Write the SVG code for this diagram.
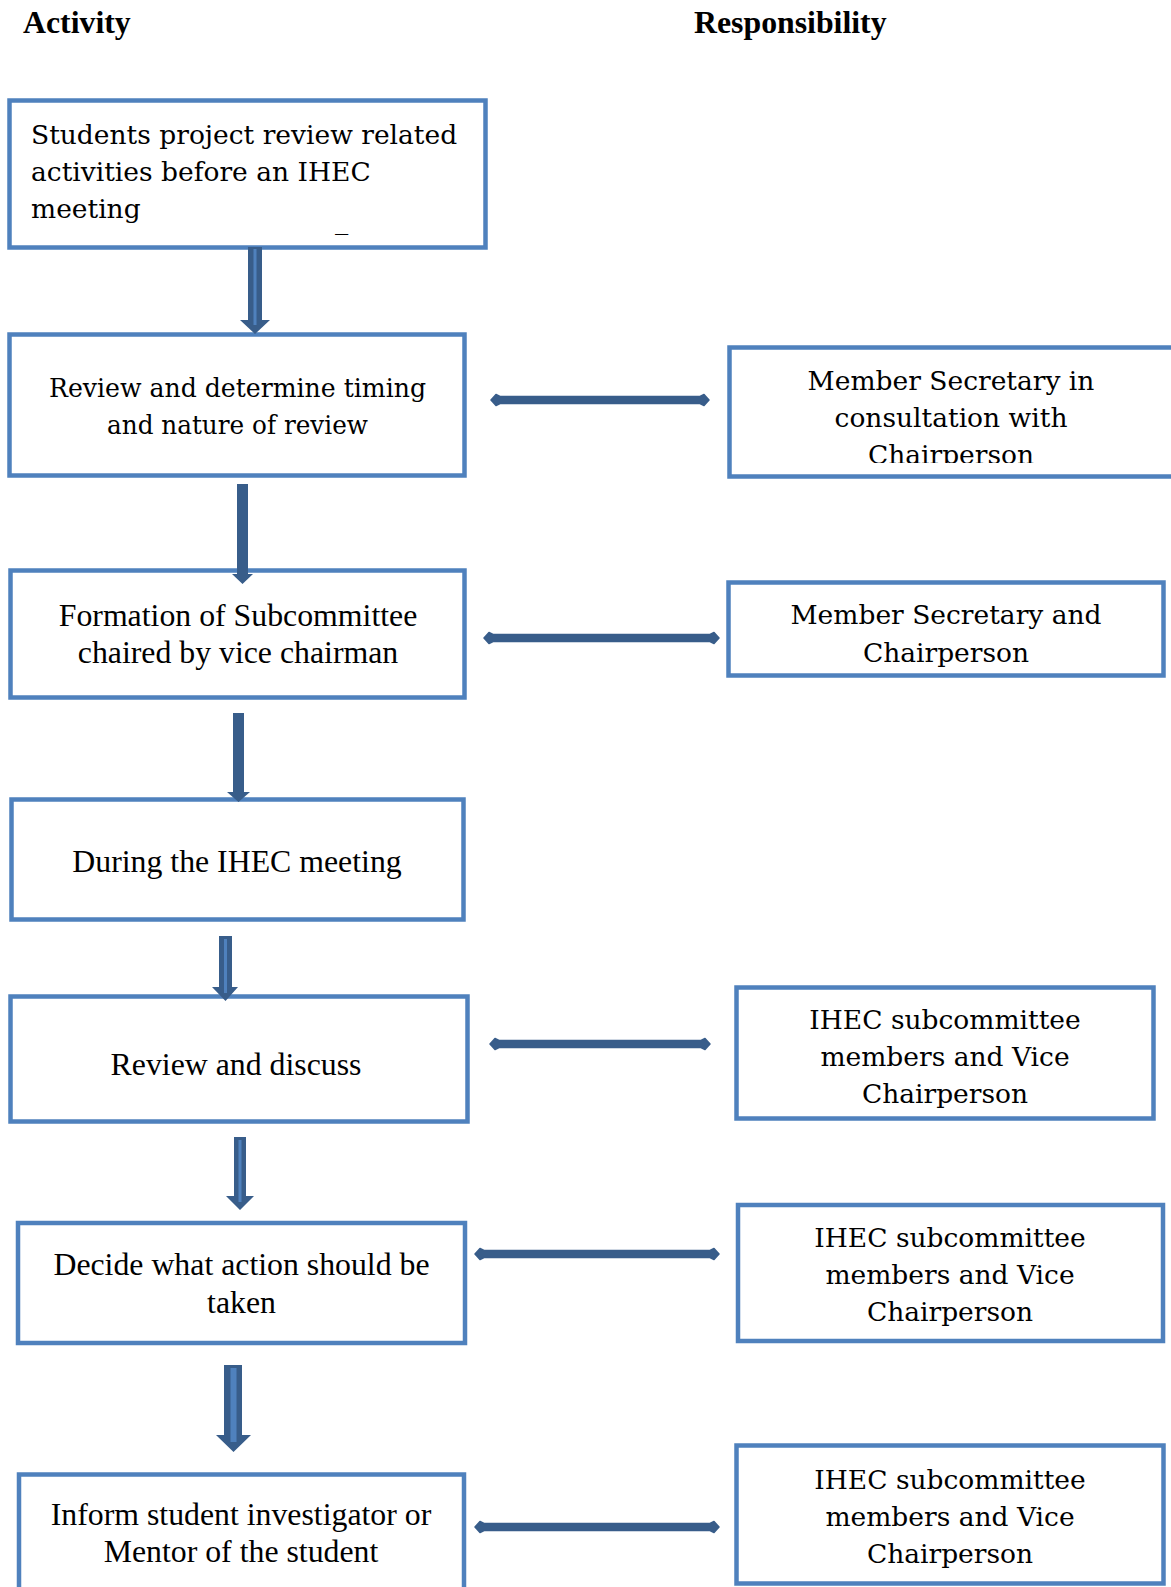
<svg xmlns="http://www.w3.org/2000/svg" width="1171" height="1587" viewBox="0 0 1171 1587">
  <style>
    .box { fill: #ffffff; stroke: #4F81BD; stroke-width: 4.5; }
    .hdr { font-family: "Liberation Serif", "Times New Roman", serif; font-weight: bold; font-size: 31.8px; fill: #000; }
    .cam { font-family: "DejaVu Serif", "Liberation Serif", serif; font-size: 26.5px; fill: #000; }
    .tnr { font-family: "Liberation Serif", "Times New Roman", serif; font-size: 31.8px; fill: #000; }
    .mid { text-anchor: middle; }
    .darr { fill: #385D8A; }
    .stripe { fill: #4F81BD; }
    .harr { fill: #385D8A; stroke: #385D8A; stroke-width: 1.5; stroke-linejoin: round; }
  </style>
  <defs>
    <clipPath id="clipR1">
      <rect x="732" y="350" width="439" height="113"/>
    </clipPath>
  </defs>

  <rect width="1171" height="1587" fill="#ffffff"/>

  <!-- column headings -->
  <text class="hdr" x="23" y="33">Activity</text>
  <text class="hdr" x="694" y="33">Responsibility</text>

  <!-- activity column -->
  <g id="act-1">
    <rect class="box" x="9.5" y="100.5" width="476" height="147"/>
    <text class="cam" x="31" y="144">Students project review related</text>
    <text class="cam" x="31" y="181">activities before an IHEC</text>
    <text class="cam" x="31" y="218">meeting</text>
    <text class="cam" x="335" y="229">_</text>
  </g>
  <g id="act-2">
    <rect class="box" x="9.5" y="334.5" width="455" height="141"/>
    <text class="cam mid" x="237.5" y="397" textLength="377" lengthAdjust="spacingAndGlyphs">Review and determine timing</text>
    <text class="cam mid" x="237.5" y="434" textLength="261" lengthAdjust="spacingAndGlyphs">and nature of review</text>
  </g>
  <g id="act-3">
    <rect class="box" x="10.5" y="570.5" width="454" height="127"/>
    <text class="tnr mid" x="238" y="626">Formation of Subcommittee</text>
    <text class="tnr mid" x="238" y="663">chaired by vice chairman</text>
  </g>
  <g id="act-4">
    <rect class="box" x="11.5" y="799.5" width="452" height="120"/>
    <text class="tnr mid" x="237" y="872">During the IHEC meeting</text>
  </g>
  <g id="act-5">
    <rect class="box" x="10.5" y="996.5" width="457" height="125"/>
    <text class="tnr mid" x="236" y="1075">Review and discuss</text>
  </g>
  <g id="act-6">
    <rect class="box" x="18" y="1223" width="447" height="120"/>
    <text class="tnr mid" x="241.5" y="1275">Decide what action should be</text>
    <text class="tnr mid" x="241.5" y="1313">taken</text>
  </g>
  <g id="act-7">
    <rect class="box" x="19" y="1474.5" width="445" height="200"/>
    <text class="tnr mid" x="241" y="1525">Inform student investigator or</text>
    <text class="tnr mid" x="241" y="1562">Mentor of the student</text>
  </g>

  <!-- responsibility column -->
  <g id="resp-1">
    <rect class="box" x="729.5" y="347.5" width="444" height="129"/>
    <g clip-path="url(#clipR1)">
      <text class="cam mid" x="951" y="390">Member Secretary in</text>
      <text class="cam mid" x="951" y="427">consultation with</text>
      <text class="cam mid" x="951" y="464">Chairperson</text>
    </g>
  </g>
  <g id="resp-2">
    <rect class="box" x="728.5" y="582.5" width="435" height="93"/>
    <text class="cam mid" x="946" y="624">Member Secretary and</text>
    <text class="cam mid" x="946" y="661.5">Chairperson</text>
  </g>
  <g id="resp-3">
    <rect class="box" x="736.5" y="987.5" width="417" height="131"/>
    <text class="cam mid" x="945" y="1029">IHEC subcommittee</text>
    <text class="cam mid" x="945" y="1066">members and Vice</text>
    <text class="cam mid" x="945" y="1103">Chairperson</text>
  </g>
  <g id="resp-4">
    <rect class="box" x="738" y="1205" width="425" height="136"/>
    <text class="cam mid" x="950" y="1247">IHEC subcommittee</text>
    <text class="cam mid" x="950" y="1284">members and Vice</text>
    <text class="cam mid" x="950" y="1321">Chairperson</text>
  </g>
  <g id="resp-5">
    <rect class="box" x="736.5" y="1445.5" width="427" height="138"/>
    <text class="cam mid" x="950" y="1489">IHEC subcommittee</text>
    <text class="cam mid" x="950" y="1526">members and Vice</text>
    <text class="cam mid" x="950" y="1563">Chairperson</text>
  </g>

  <!-- connectors -->
  <g id="connectors">
    <!-- downward block arrows between activities -->
    <polygon class="darr" points="248,247 262,247 262,320 270,320 255,334 240,320 248,320"/>
    <rect class="stripe" x="253.5" y="249" width="3" height="76"/>

    <polygon class="darr" points="237,484 248,484 248,574 253,574 242.5,584 232,574 237,574"/>

    <polygon class="darr" points="233,713 244,713 244,792 250,792 238.5,802 227,792 233,792"/>

    <polygon class="darr" points="219,936 232,936 232,987 238,987 225.5,1001 212,987 219,987"/>
    <rect class="stripe" x="224" y="939" width="3" height="54"/>

    <polygon class="darr" points="234,1137 246,1137 246,1196 254,1196 240,1210 226,1196 234,1196"/>
    <rect class="stripe" x="238.5" y="1140" width="3" height="62"/>

    <polygon class="darr" points="224,1365 242,1365 242,1435 251,1435 233.5,1452 216,1435 224,1435"/>
    <rect class="stripe" x="230.5" y="1368" width="6" height="74"/>

    <!-- double-headed arrows linking activities to responsibilities -->
    <polygon class="harr" points="491,400 496,394.5 500,396.5 700,396.5 704,394.5 709,400 704,405.5 700,403.5 500,403.5 496,405.5"/>
    <polygon class="harr" points="484,638 489,632.5 493,634.5 710,634.5 714,632.5 719,638 714,643.5 710,641.5 493,641.5 489,643.5"/>
    <polygon class="harr" points="490,1044 495,1038.5 499,1040.5 701,1040.5 705,1038.5 710,1044 705,1049.5 701,1047.5 499,1047.5 495,1049.5"/>
    <polygon class="harr" points="475,1254 480,1248.5 484,1250.5 710,1250.5 714,1248.5 719,1254 714,1259.5 710,1257.5 484,1257.5 480,1259.5"/>
    <polygon class="harr" points="475,1527 480,1521.5 484,1523.5 710,1523.5 714,1521.5 719,1527 714,1532.5 710,1530.5 484,1530.5 480,1532.5"/>
  </g>
</svg>
